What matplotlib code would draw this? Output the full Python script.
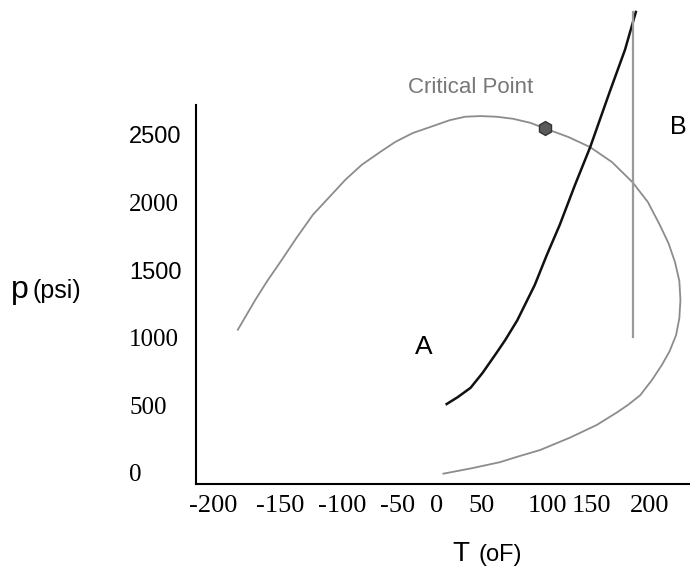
import matplotlib
matplotlib.use("Agg")
import matplotlib.pyplot as plt

# phase envelope (bubble + dew curve)
env_T = [-179, -171, -163, -152, -140, -125, -110, -95, -80, -65,
         -48, -34, -18, 0, 16, 30, 44, 59, 74, 90,
         103, 125, 145, 165, 184, 198, 209, 217, 223, 227,
         228, 227, 224, 218, 211, 202, 191, 180, 170, 151,
         126, 99, 80, 62, 36, 10]
env_p = [1060, 1170, 1280, 1420, 1560, 1740, 1910, 2040, 2170, 2280,
         2375, 2450, 2515, 2565, 2610, 2635, 2640, 2635, 2620, 2590,
         2550, 2485, 2410, 2300, 2150, 2005, 1835, 1700, 1560, 1420,
         1280, 1145, 1020, 900, 800, 690, 575, 505, 450, 355,
         260, 170, 125, 80, 35, -5]

# path A (black)
a_T = [13, 23, 35, 46, 59, 67, 78, 94, 105, 117, 131, 145, 163, 177, 187]
a_p = [510, 560, 630, 740, 890, 985, 1130, 1390, 1610, 1835, 2130, 2410, 2820, 3130, 3410]

# path B (vertical)
b_T = [184, 184]
b_p = [1005, 3410]

crit_T = 103
crit_p = 2550

# tick labels sit where the sketch put them (not evenly spaced)
x_tick_pos = [-202, -140, -83, -32, 4, 45, 106, 146, 200]
x_tick_lab = ["-200", "-150", "-100", "-50", "0", "50", "100", "150", "200"]
y_tick_pos = [0, 500, 1000, 1500, 2000, 2500]
y_tick_lab = ["0", "500", "1000", "1500", "2000", "2500"]
y_tick_sans = ["1500", "2500"]

W, H = 690, 569
fig = plt.figure(figsize=(W / 100, H / 100), dpi=100)
ax = fig.add_axes([196 / W, (H - 484) / H, (W - 196) / W, 484 / H])
ax.set_xlim(-217.5, 236.8)
ax.set_ylim(-81.4, 3498.5)

ax.plot(env_T, env_p, color="#8c8c8c", lw=1.3, solid_joinstyle="round")
ax.plot(a_T, a_p, color="#111111", lw=1.8, solid_joinstyle="round")
ax.plot(b_T, b_p, color="#9a9a9a", lw=1.6)
ax.plot([crit_T], [crit_p], marker="h", ms=10, color="#5a5a5a", mec="#333333")

ax.text(35, 2848, "Critical Point", ha="center", va="center", color="#777777",
        fontsize=16, family="Liberation Sans")
ax.text(-8, 932, "A", ha="center", va="center", fontsize=19, family="Liberation Sans")
ax.text(226, 2560, "B", ha="center", va="center", fontsize=18, family="Liberation Sans")

for s in ["top", "right"]:
    ax.spines[s].set_visible(False)
ax.spines["left"].set_bounds(-81.4, 2722)
ax.spines["left"].set_linewidth(1.5)
ax.spines["bottom"].set_linewidth(1.5)

ax.set_xticks(x_tick_pos, x_tick_lab)
ax.tick_params(axis="x", length=0, pad=8, labelsize=19)
for lbl in ax.get_xticklabels():
    lbl.set_fontfamily("Liberation Serif")

ax.set_yticks(y_tick_pos, y_tick_lab)
ax.tick_params(axis="y", length=0, pad=48, labelsize=18)
for lbl in ax.get_yticklabels():
    lbl.set_ha("left")
    if lbl.get_text() in y_tick_sans:
        lbl.set_fontfamily("Liberation Sans")
        lbl.set_fontsize(17)
    else:
        lbl.set_fontfamily("Liberation Serif")

fig.text(11 / W, (H - 298) / H, "p", fontsize=23, family="Liberation Sans", va="baseline")
fig.text(33 / W, (H - 298) / H, "(psi)", fontsize=18, family="Liberation Sans", va="baseline")
fig.text(452 / W, (H - 561) / H, "T", fontsize=20, family="Liberation Sans", va="baseline")
fig.text(478 / W, (H - 561) / H, "(oF)", fontsize=17, family="Liberation Sans", va="baseline")

fig.savefig("out.png", dpi=100)
